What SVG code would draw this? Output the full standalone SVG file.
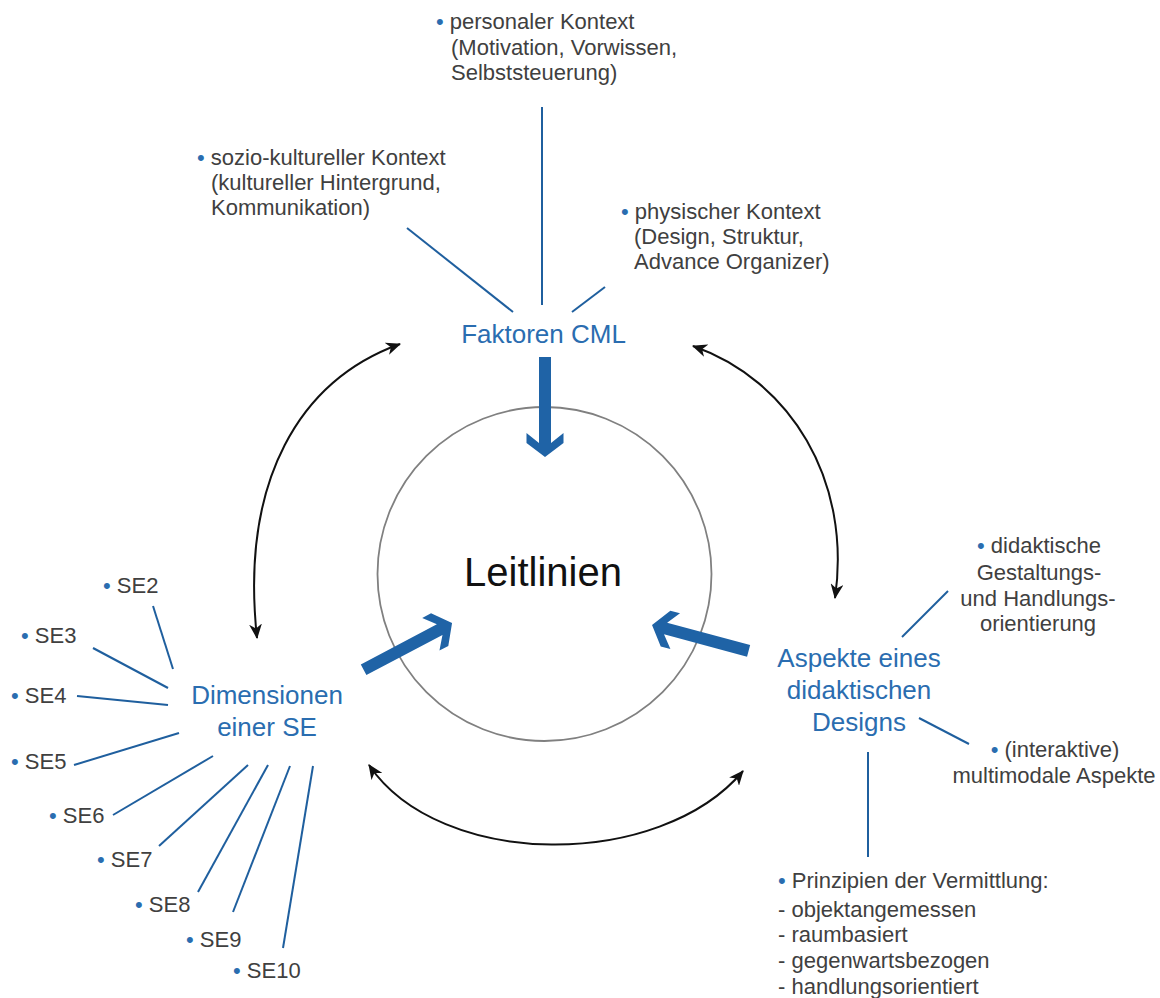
<svg xmlns="http://www.w3.org/2000/svg" width="1160" height="998" viewBox="0 0 1160 998">
  <style>
    .lbl { font-family: "Liberation Sans", Arial, sans-serif; font-size: 22px; fill: #404040; }
    .mid { text-anchor: middle; }
    .head { font-family: "Liberation Sans", Arial, sans-serif; font-size: 26px; fill: #2a6db0; text-anchor: middle; }
    .core { font-family: "Liberation Sans", Arial, sans-serif; font-size: 40px; fill: #111111; text-anchor: middle; }
    .b { fill: #2a6db0; }
    .spoke { stroke: #1f5f9e; stroke-width: 2; fill: none; }
    .cycle { stroke: #111111; stroke-width: 2; fill: none; marker-start: url(#tip); marker-end: url(#tip); }
    .push { fill: #1f63a6; }
  </style>
  <defs>
    <marker id="tip" viewBox="0 0 14 12" refX="13" refY="6" markerWidth="15" markerHeight="13" markerUnits="userSpaceOnUse" orient="auto-start-reverse">
      <path d="M0,0 L14,6 L0,12 L4,6 Z" fill="#111111"/>
    </marker>
    <!-- thick chevron arrow, pointing along +x, 100 long -->
    <path id="fat-arrow" d="M0,-6 H86 L76,-18.5 H86 L100,0 L86,18.5 H76 L86,6 H0 Z"/>
  </defs>
  <rect width="1160" height="998" fill="#ffffff"/>

  <!-- centre circle -->
  <g id="node-leitlinien">
    <circle cx="544.5" cy="574" r="167" fill="none" stroke="#808080" stroke-width="1.8"/>
    <text class="core" x="543" y="586">Leitlinien</text>
  </g>

  <!-- connectors -->
  <g id="connectors">
    <!-- spokes of Faktoren CML -->
    <line class="spoke" x1="542" y1="107" x2="542" y2="305"/>
    <line class="spoke" x1="407" y1="228" x2="513" y2="312"/>
    <line class="spoke" x1="605" y1="287" x2="572" y2="312"/>
    <!-- spokes of Dimensionen einer SE -->
    <line class="spoke" x1="153" y1="606" x2="173" y2="669"/>
    <line class="spoke" x1="93" y1="648" x2="168" y2="688"/>
    <line class="spoke" x1="77" y1="696" x2="168" y2="705"/>
    <line class="spoke" x1="74" y1="765" x2="179" y2="733"/>
    <line class="spoke" x1="113" y1="815" x2="213" y2="756"/>
    <line class="spoke" x1="159" y1="846" x2="248" y2="765"/>
    <line class="spoke" x1="198" y1="892" x2="268" y2="765"/>
    <line class="spoke" x1="233" y1="912" x2="290" y2="766"/>
    <line class="spoke" x1="283" y1="948" x2="313" y2="766"/>
    <!-- spokes of Aspekte eines didaktischen Designs -->
    <line class="spoke" x1="948" y1="591" x2="902" y2="637"/>
    <line class="spoke" x1="919" y1="718" x2="969" y2="744"/>
    <line class="spoke" x1="868" y1="752" x2="868" y2="857"/>
    <!-- mutual relations -->
    <path class="cycle" d="M400,344 C300,380 240,480 257,638"/>
    <path class="cycle" d="M693,346 C790,380 852,480 835,598"/>
    <path class="cycle" d="M369,765 C440,870 660,870 743,771"/>
    <!-- inputs into the guidelines -->
    <use href="#fat-arrow" class="push" transform="translate(545,357) rotate(90)"/>
    <use href="#fat-arrow" class="push" transform="translate(363.6,669.7) rotate(-27.8)"/>
    <use href="#fat-arrow" class="push" transform="translate(748.6,650.9) rotate(-164.95)"/>
  </g>

  <g id="node-faktoren">
    <text class="head" x="543.5" y="343">Faktoren CML</text>
  </g>
  <g id="node-dimensionen">
    <text class="head" x="267" y="704">Dimensionen</text>
    <text class="head" x="267" y="736">einer SE</text>
  </g>
  <g id="node-aspekte">
    <text class="head" x="859" y="667">Aspekte eines</text>
    <text class="head" x="859" y="699">didaktischen</text>
    <text class="head" x="859" y="731">Designs</text>
  </g>

  <g id="node-personal">
    <text class="lbl" x="436" y="29"><tspan class="b">•</tspan> personaler Kontext</text>
    <text class="lbl" x="451" y="55">(Motivation, Vorwissen,</text>
    <text class="lbl" x="451" y="80">Selbststeuerung)</text>
  </g>
  <g id="node-sozio">
    <text class="lbl" x="197" y="165"><tspan class="b">•</tspan> sozio-kultureller Kontext</text>
    <text class="lbl" x="211" y="190">(kultureller Hintergrund,</text>
    <text class="lbl" x="211" y="215">Kommunikation)</text>
  </g>
  <g id="node-physisch">
    <text class="lbl" x="621" y="219"><tspan class="b">•</tspan> physischer Kontext</text>
    <text class="lbl" x="634" y="244">(Design, Struktur,</text>
    <text class="lbl" x="634" y="269">Advance Organizer)</text>
  </g>

  <g id="node-se2"><text class="lbl" x="103" y="593"><tspan class="b">•</tspan> SE2</text></g>
  <g id="node-se3"><text class="lbl" x="21" y="643"><tspan class="b">•</tspan> SE3</text></g>
  <g id="node-se4"><text class="lbl" x="11" y="703"><tspan class="b">•</tspan> SE4</text></g>
  <g id="node-se5"><text class="lbl" x="11" y="769"><tspan class="b">•</tspan> SE5</text></g>
  <g id="node-se6"><text class="lbl" x="49" y="823"><tspan class="b">•</tspan> SE6</text></g>
  <g id="node-se7"><text class="lbl" x="97" y="867"><tspan class="b">•</tspan> SE7</text></g>
  <g id="node-se8"><text class="lbl" x="135" y="912"><tspan class="b">•</tspan> SE8</text></g>
  <g id="node-se9"><text class="lbl" x="186" y="947"><tspan class="b">•</tspan> SE9</text></g>
  <g id="node-se10"><text class="lbl" x="233" y="978"><tspan class="b">•</tspan> SE10</text></g>

  <g id="node-didaktisch">
    <text class="lbl mid" x="1039" y="553"><tspan class="b">•</tspan> didaktische</text>
    <text class="lbl mid" x="1039" y="580">Gestaltungs-</text>
    <text class="lbl mid" x="1038" y="606">und Handlungs-</text>
    <text class="lbl mid" x="1038" y="631">orientierung</text>
  </g>
  <g id="node-interaktiv">
    <text class="lbl mid" x="1055" y="757"><tspan class="b">•</tspan> (interaktive)</text>
    <text class="lbl mid" x="1054" y="783">multimodale Aspekte</text>
  </g>
  <g id="node-prinzipien">
    <text class="lbl" x="778" y="888"><tspan class="b">•</tspan> Prinzipien der Vermittlung:</text>
    <text class="lbl" x="778" y="917">- objektangemessen</text>
    <text class="lbl" x="778" y="942">- raumbasiert</text>
    <text class="lbl" x="778" y="968">- gegenwartsbezogen</text>
    <text class="lbl" x="778" y="994">- handlungsorientiert</text>
  </g>
</svg>
